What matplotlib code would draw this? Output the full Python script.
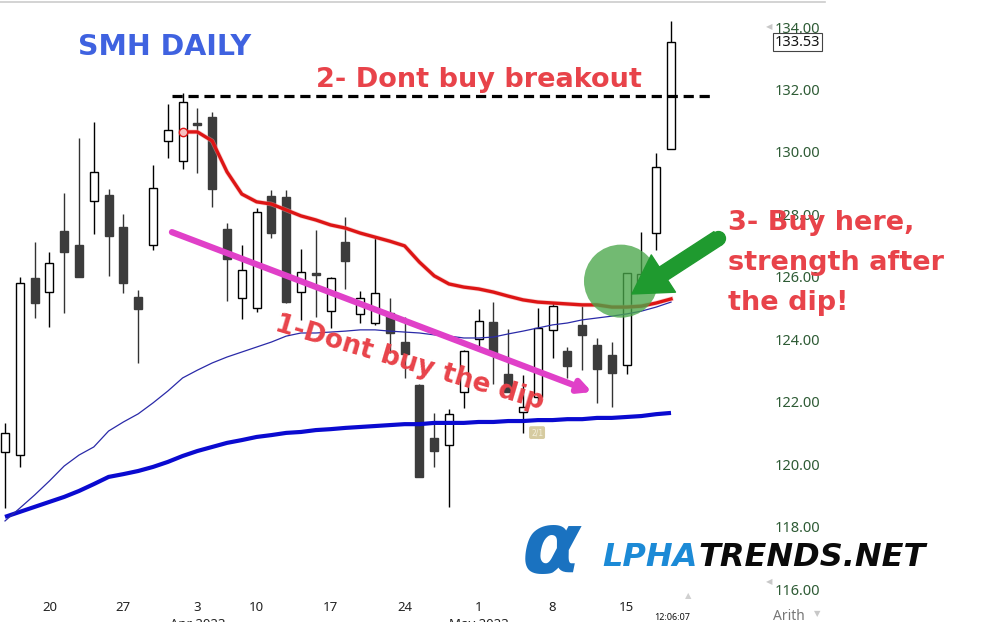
import matplotlib
matplotlib.use("Agg")
import matplotlib.pyplot as plt
import matplotlib.patheffects as pe
from matplotlib.patches import Ellipse
from matplotlib.lines import Line2D
import pandas as pd
import numpy as np

# ---------------- data ----------------
dates = [d for d in pd.bdate_range("2023-03-15", "2023-05-18") if d != pd.Timestamp("2023-04-07")]

opens  = [120.39, 120.29, 125.96, 125.51, 127.47, 127.02, 128.43, 128.62, 127.59, 125.35,
          127.02, 130.35, 129.71, 130.93, 131.12, 127.53, 125.32, 125.00, 128.59, 128.55,
          125.51, 126.12, 124.90, 127.11, 124.81, 124.52, 124.84, 123.91, 122.53, 120.84,
          120.61, 122.31, 124.01, 124.55, 122.89, 121.67, 122.15, 124.29, 123.62, 124.46,
          123.81, 123.49, 123.17, 125.74, 127.40, 130.09]
highs  = [121.32, 125.99, 127.11, 126.79, 128.68, 130.44, 130.96, 128.81, 128.01, 125.58,
          129.58, 131.53, 131.89, 131.41, 131.28, 127.72, 127.02, 128.20, 128.78, 128.78,
          126.89, 127.50, 125.99, 127.91, 125.54, 127.27, 125.32, 124.71, 122.57, 121.64,
          121.76, 123.65, 124.97, 125.19, 124.33, 122.85, 125.00, 125.16, 123.75, 125.06,
          124.04, 123.91, 126.12, 127.43, 129.96, 134.19]
lows   = [118.59, 119.91, 124.68, 124.39, 124.84, 125.99, 127.37, 126.02, 125.48, 123.24,
          126.86, 129.80, 129.45, 129.32, 128.23, 125.22, 124.65, 124.87, 127.24, 125.16,
          124.62, 124.71, 124.36, 125.61, 124.52, 124.46, 123.56, 122.76, 119.59, 119.91,
          118.63, 121.80, 123.72, 122.57, 122.31, 121.00, 121.99, 123.40, 122.76, 123.01,
          121.96, 121.83, 122.89, 125.58, 126.86, 130.09]
closes = [121.00, 125.80, 125.16, 126.44, 126.79, 125.99, 129.36, 127.31, 125.80, 124.97,
          128.84, 130.70, 131.60, 130.86, 128.81, 126.57, 126.22, 128.07, 127.40, 125.19,
          126.15, 126.06, 125.96, 126.50, 125.32, 125.48, 124.20, 123.53, 119.59, 120.42,
          121.60, 123.62, 124.58, 123.56, 122.31, 121.83, 124.36, 125.06, 123.14, 124.13,
          123.05, 122.92, 126.12, 126.09, 129.52, 133.53]

# red moving average (starts at candle index 12)
ma_red_start = 12
ma_red = [130.64, 130.64, 130.35, 129.36, 128.65, 128.40, 128.33, 128.14, 127.95, 127.82,
          127.66, 127.56, 127.40, 127.27, 127.14, 126.99, 126.47, 126.03, 125.77, 125.67,
          125.61, 125.51, 125.38, 125.26, 125.19, 125.16, 125.13, 125.10, 125.10, 125.03,
          125.03, 125.06, 125.16, 125.29]
# thin blue moving average
ma_thin = [118.18, 118.59, 119.01, 119.46, 119.94, 120.29, 120.55, 121.06, 121.35, 121.61,
           121.96, 122.34, 122.76, 123.01, 123.24, 123.43, 123.59, 123.75, 123.91, 124.10,
           124.20, 124.20, 124.23, 124.26, 124.30, 124.30, 124.26, 124.23, 124.20, 124.14,
           124.10, 124.04, 124.04, 124.07, 124.17, 124.26, 124.36, 124.46, 124.52, 124.62,
           124.68, 124.74, 124.81, 124.90, 125.03, 125.19]
# thick blue moving average
ma_thick = [118.31, 118.47, 118.63, 118.79, 118.95, 119.14, 119.36, 119.59, 119.68, 119.78,
            119.91, 120.07, 120.26, 120.42, 120.55, 120.68, 120.77, 120.87, 120.93, 121.00,
            121.03, 121.09, 121.12, 121.16, 121.19, 121.22, 121.25, 121.28, 121.28, 121.32,
            121.32, 121.32, 121.35, 121.35, 121.38, 121.38, 121.41, 121.41, 121.44, 121.44,
            121.48, 121.48, 121.51, 121.54, 121.60, 121.64]

y_ticks = [116, 118, 120, 122, 124, 126, 128, 130, 132, 134]
last_price = 133.53
breakout_level = 131.79
month_labels = {"2023-04-03": "Apr 2023", "2023-05-01": "May 2023"}

# ---------------- figure ----------------
W, H = 992, 622
fig = plt.figure(figsize=(W / 100, H / 100), dpi=100)
fig.patch.set_facecolor("white")
ax = fig.add_axes([0, 22 / H, 757 / W, 600 / H])
ax.set_facecolor("white")
for s in ax.spines.values():
    s.set_visible(False)

n = len(opens)
x = np.arange(n)
ax.set_xlim(-0.338, 50.81)
ax.set_ylim(115.648, 134.865)

def fx(px):
    return px / W

def fy(py):
    return 1 - py / H

# candles
o = np.array(opens); c = np.array(closes); h = np.array(highs); l = np.array(lows)
up = c >= o
wick_cols = np.where(up, "black", "#333333")
ax.vlines(x, l, h, colors=wick_cols, linewidth=1.0, zorder=2)
body_bottom = np.minimum(o, c)
body_h = np.maximum(np.abs(c - o), 0.07)
ax.bar(x[up], body_h[up], bottom=body_bottom[up], width=0.55,
       facecolor="white", edgecolor="black", linewidth=1.0, zorder=3)
ax.bar(x[~up], body_h[~up], bottom=body_bottom[~up], width=0.55,
       facecolor="#3c3c3c", edgecolor="#3c3c3c", linewidth=1.0, zorder=3)

# moving averages
ax.plot(x, ma_thick, color="#0a0ad0", linewidth=3.0, zorder=4, solid_capstyle="butt")
ax.plot(x, ma_thin, color="#2a2aa8", linewidth=0.9, zorder=4)
xr = np.arange(ma_red_start, ma_red_start + len(ma_red))
ax.plot(xr, ma_red, color="#dd1515", linewidth=2.4, zorder=5,
        path_effects=[pe.Stroke(linewidth=3.4, foreground="#f3a0a0", alpha=0.5), pe.Normal()])
ax.plot([xr[0]], [ma_red[0]], marker="o", markersize=6, markerfacecolor="#f6c0c0",
        markeredgecolor="#dd1515", markeredgewidth=1, zorder=6)

# dashed breakout line
ax.plot([11.28, 47.97], [breakout_level, breakout_level], color="black", linewidth=2.3,
        linestyle=(0, (3.2, 1.8)), zorder=6)

# pink arrow
ax.annotate("", xy=(39.66, 122.31), xytext=(11.28, 127.43),
            arrowprops=dict(arrowstyle="-|>,head_length=0.75,head_width=0.38",
                            color="#e040c8", linewidth=4.5, shrinkA=0, shrinkB=0),
            zorder=7)

# green circle
ax.add_patch(Ellipse((41.62, 125.86), width=5.0, height=2.34, facecolor="#4aa74a",
                     alpha=0.78, edgecolor="none", zorder=7))

# green arrow
ax.annotate("", xy=(42.36, 125.45), xytext=(48.18, 127.24),
            arrowprops=dict(arrowstyle="simple,head_length=1.35,head_width=1.6,tail_width=0.55",
                            mutation_scale=20, facecolor="#1f9a2f", edgecolor="#1f9a2f",
                            shrinkA=0, shrinkB=0),
            zorder=8, annotation_clip=False)
ax.plot([48.18], [127.24], marker="o", markersize=10, color="#1f9a2f", zorder=8, clip_on=False)

# small badge
ax.text(35.95, 121.01, "2/1", fontsize=5.5, color="#f4f0dc", ha="center", va="center",
        bbox=dict(boxstyle="round,pad=0.25", facecolor="#cfc28f", edgecolor="none", alpha=0.85),
        zorder=6)

# axis ticks
ax.yaxis.tick_right()
ax.set_yticks(y_ticks)
ax.set_yticklabels([f"{v:.2f}" for v in y_ticks], fontfamily="Noto Sans",
                   fontsize=10.5, color="#2e5b35")
ax.tick_params(axis="y", length=0, pad=13)

tick_idx = [i for i, d in enumerate(dates) if d.weekday() == 0]
ax.set_xticks(tick_idx)
ax.set_xticklabels([str(dates[i].day) for i in tick_idx], fontfamily="Noto Sans",
                   fontsize=9.5, color="#222222")
ax.tick_params(axis="x", length=0, pad=1)

for i, d in enumerate(dates):
    key = d.strftime("%Y-%m-%d")
    if key in month_labels:
        ax.annotate(month_labels[key], xy=(i, 0), xycoords=("data", "axes fraction"),
                    xytext=(0, -18), textcoords="offset pixels", ha="center", va="top",
                    fontsize=9.5, fontfamily="Noto Sans", color="#222222",
                    annotation_clip=False)

# last price box
fig.text(fx(775), fy(42), f"{last_price:.2f}", fontsize=10.5, fontfamily="Noto Sans",
         color="#111111", ha="left", va="center",
         bbox=dict(boxstyle="square,pad=0.12", facecolor="white", edgecolor="#444444", linewidth=0.8))
fig.text(fx(769), fy(27), "\u25C0", fontsize=6, color="#c8c8c8", ha="center", va="center")
fig.text(fx(769), fy(582), "\u25C0", fontsize=6, color="#c8c8c8", ha="center", va="center")
fig.text(fx(688), fy(596), "\u25B2", fontsize=6, color="#d0d0d0", ha="center", va="center")
fig.text(fx(672), fy(617), "12:06:07", fontsize=6.5, color="#111111", ha="center", va="center",
         fontfamily="Noto Sans")
fig.text(fx(773), fy(616), "Arith", fontsize=10, color="#777777", ha="left", va="center",
         fontfamily="Noto Sans")
fig.text(fx(817), fy(614), "\u25BC", fontsize=6, color="#c8c8c8", ha="center", va="center")

# top border
fig.add_artist(Line2D([0, fx(825)], [fy(2), fy(2)], color="#cccccc", linewidth=1.2))

# annotation texts
fig.text(fx(78), fy(47), "SMH DAILY", fontsize=20.5, fontweight="bold", color="#3f62e0",
         fontfamily="DejaVu Sans", ha="left", va="center")
fig.text(fx(316), fy(80), "2- Dont buy breakout", fontsize=19.5, fontweight="bold",
         color="#e8434a", fontfamily="DejaVu Sans", ha="left", va="center", zorder=9)
for k, line in enumerate(["3- Buy here,", "strength after", "the dip!"]):
    fig.text(fx(728), fy(223 + 40 * k), line, fontsize=19.5, fontweight="bold",
             color="#e8434a", fontfamily="DejaVu Sans", ha="left", va="center", zorder=9)
fig.text(fx(410), fy(363), "1-Dont buy the dip", fontsize=19, fontweight="bold",
         color="#e8434a", fontfamily="DejaVu Sans", ha="center", va="center",
         rotation=-16.5, rotation_mode="anchor", zorder=9)

# logo
fig.text(fx(522), fy(549), "\u03B1", fontsize=62, fontweight="bold", style="italic",
         color="#1a72c0", fontfamily="DejaVu Sans", ha="left", va="center")
fig.text(fx(698), fy(557), "LPHA", fontsize=23, fontweight="bold", style="italic",
         color="#1c8ad6", fontfamily="DejaVu Sans", ha="right", va="center")
fig.text(fx(698), fy(557), "TRENDS.NET", fontsize=23, fontweight="bold", style="italic",
         color="#0a0a0a", fontfamily="DejaVu Sans", ha="left", va="center")

fig.savefig("out.png", dpi=100, facecolor="white")
